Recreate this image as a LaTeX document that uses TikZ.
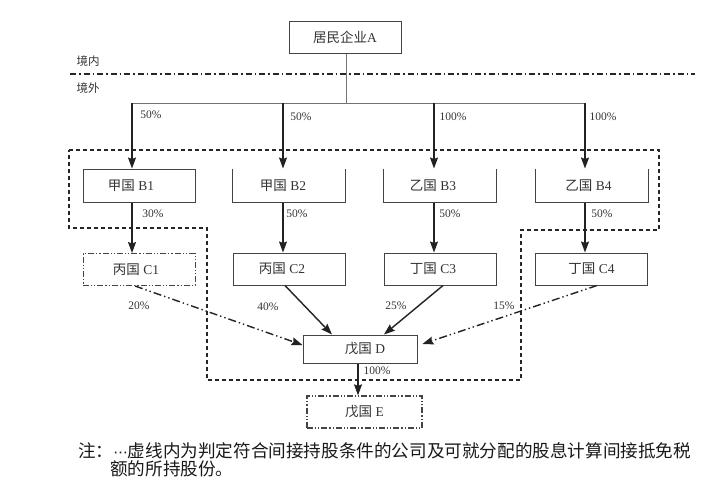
\documentclass[tikz,border=0pt]{standalone}
\usepackage{fontspec}
\setmainfont{Liberation Serif}
\newfontfamily\cjk{Noto Sans CJK SC}
\newfontfamily\dejavu{DejaVu Sans}
\usetikzlibrary{arrows.meta,calc}
\definecolor{boxc}{HTML}{444444}
\definecolor{txtc}{HTML}{333333}
\definecolor{arrc}{HTML}{222222}
\newcommand\tsh[2]{\hspace*{#1pt}#2}
\begin{document}
\begin{tikzpicture}[x=1pt,y=-1pt,
  boxline/.style={draw=boxc, line width=1pt},
  box/.style={boxline, minimum width=112pt, minimum height=32pt, inner sep=0pt,
    font=\fontsize{13.5}{15}\selectfont, text=txtc},
  openbox/.style={box, draw=none},
  ddbox/.style={box, dash pattern=on 6pt off 2pt on 1.2pt off 2pt on 1.2pt off 2pt},
  arr/.style={-{Stealth[length=11pt,width=8pt,inset=1.5pt]}, line width=1.4pt, draw=arrc},
  ddarr/.style={arr, dash pattern=on 8pt off 3pt on 1.4pt off 3pt on 1.4pt off 3pt},
  feed/.style={draw=black!55, line width=0.9pt},
  region/.style={draw=black!85, line width=1.2pt, dash pattern=on 4pt off 3pt},
  border/.style={draw=black!85, line width=1.3pt, dash pattern=on 6pt off 3pt on 1.5pt off 3pt},
  pct/.style={font=\fontsize{11.5}{13}\selectfont, text=txtc, inner sep=0pt},
  side/.style={font=\cjk\fontsize{11.5}{13}\selectfont, text=txtc, inner sep=0pt},
  note/.style={font=\cjk\fontsize{17.6}{19}\selectfont, text=black!90, inner sep=0pt, anchor=west}
]
\useasboundingbox (0,0) rectangle (717,479);

% top node
\node[box] (a) at (345,37) {{\cjk 居民企业}A};

% border line
\coordinate (bl) at (70,74);
\coordinate (br) at (695,74);
\draw[border] (bl) -- (br);
\node[side] (in) at (88,61) {境内};
\node[side] (out) at (88,88) {境外};

% qualifying region
\draw[region] (69,150) -- (659,150) -- (659,230) -- (521,230) -- (521,380)
  -- (207,380) -- (207,228) -- (69,228) -- cycle;

% B row
\node[box, minimum height=33pt] (b1) at (139,185.5) {\tsh{-16}{{\cjk 甲国} B1}};
\node[openbox, minimum height=33pt] (b2) at (289,185.5) {\tsh{-12}{{\cjk 甲国} B2}};
\node[openbox, minimum height=33pt] (b3) at (440,185.5) {\tsh{-14}{{\cjk 乙国} B3}};
\node[openbox, minimum height=33pt] (b4) at (591.5,185.5) {\tsh{-6}{{\cjk 乙国} B4}};
\foreach \n in {b2,b3,b4}
  \draw[boxline] (\n.north west) -- (\n.south west) -- (\n.south east) -- (\n.north east);

% C row
\node[ddbox] (c1) at (139,269.5) {\tsh{-6}{{\cjk 丙国} C1}};
\node[box] (c2) at (289,269) {\tsh{-14}{{\cjk 丙国} C2}};
\node[box] (c3) at (440,269) {\tsh{-14}{{\cjk 丁国} C3}};
\node[box] (c4) at (591.5,269) {{\cjk 丁国} C4};

% D and E
\node[box, minimum width=114pt, minimum height=28pt] (d) at (360,349) {\tsh{10}{{\cjk 戊国} D}};
\node[ddbox, minimum width=115pt, line width=1.3pt] (e) at (364.5,412) {{\cjk 戊国} E};

% feed lines from A
\coordinate (k1) at (132,103);
\coordinate (k2) at (283,103);
\coordinate (k3) at (434,103);
\coordinate (k4) at (585,103);
\coordinate (k0) at (346,103);
\draw[feed] (a.south -| k0) -- (k0);
\draw[feed] (k1) -- (k4);

% A -> B arrows
\draw[arr] (k1) -- (k1 |- b1.north);
\draw[arr] (k2) -- (k2 |- b2.north);
\draw[arr] (k3) -- (k3 |- b3.north);
\draw[arr] (k4) -- (k4 |- b4.north);
\node[pct] (p1) at (151,115) {50\%};
\node[pct] (p2) at (301,117) {50\%};
\node[pct] (p3) at (453,117) {100\%};
\node[pct] (p4) at (603,117) {100\%};

% B -> C arrows
\draw[arr] (b1.south -| k1) -- (c1.north -| k1);
\draw[arr] (b2.south -| k2) -- (c2.north -| k2);
\draw[arr] (b3.south -| k3) -- (c3.north -| k3);
\draw[arr] (b4.south -| k4) -- (c4.north -| k4);
\node[pct] (q1) at (153,214) {30\%};
\node[pct] (q2) at (297,214) {50\%};
\node[pct] (q3) at (450,214) {50\%};
\node[pct] (q4) at (602,214) {50\%};

% C -> D arrows
\draw[ddarr] ($(c1.south)+(-4,0)$) -- ($(d.west)+(0,-4)$);
\draw[arr] ($(c2.south)+(-4,0)$) -- ($(d.north)+(-28,0)$);
\draw[arr] ($(c3.south)+(3,0)$) -- ($(d.north)+(24,0)$);
\draw[ddarr] ($(c4.south)+(5.5,0)$) -- ($(d.east)+(5,-5)$);
\node[pct] (r1) at (139,306) {20\%};
\node[pct] (r2) at (268,307) {40\%};
\node[pct] (r3) at (396,306) {25\%};
\node[pct] (r4) at (504,306) {15\%};

% D -> E
\coordinate (de) at ($(d.south)+(-2,0)$);
\draw[arr] (de) -- (de |- e.north);
\node[pct] (s1) at (377,371) {100\%};

% note
\node[note] (n1) at (78,451) {注：{\dejavu\fontsize{14.5}{16}\selectfont ⋯}虚线内为判定符合间接持股条件的公司及可就分配的股息计算间接抵免税};
\node[note] (n2) at (110,469) {额的所持股份。};
\end{tikzpicture}
\end{document}
